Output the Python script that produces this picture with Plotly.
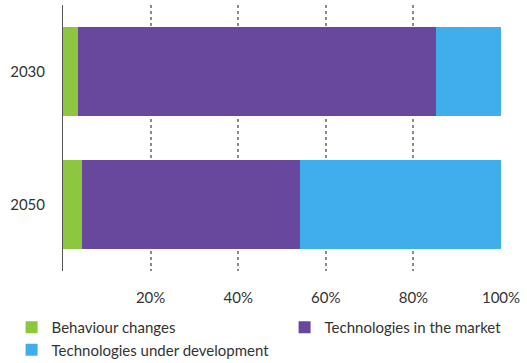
import plotly.graph_objects as go

years = ["2030", "2050"]
behaviour = [3.4, 4.3]
market = [81.8, 49.8]
development = [14.8, 45.9]

series = [
    ("Behaviour changes", behaviour, "#8DC63F", "legend"),
    ("Technologies in the market", market, "#67489C", "legend2"),
    ("Technologies under development", development, "#41AEEC", "legend"),
]

fig = go.Figure()
for name, vals, color, leg in series:
    fig.add_trace(go.Bar(
        y=years, x=vals, name=name, orientation="h", legend=leg,
        marker=dict(color=color, line=dict(width=0)),
    ))

legend_common = dict(
    orientation="v", xref="container", yref="container",
    yanchor="top", traceorder="normal",
    font=dict(family="Lato", size=15, color="#333333"),
    itemwidth=30, tracegroupgap=0, bgcolor="rgba(0,0,0,0)",
)

fig.update_layout(
    barmode="stack",
    bargap=0.33,
    width=527, height=363,
    margin=dict(l=63, r=26, t=5, b=92, autoexpand=False),
    paper_bgcolor="white", plot_bgcolor="white",
    font=dict(family="Lato", size=15, color="#333333"),
    showlegend=True,
    legend=dict(x=0.022, xanchor="left", y=0.143, **legend_common),
    legend2=dict(x=0.54, xanchor="left", y=0.143, **legend_common),
    xaxis=dict(
        range=[0, 100], tickvals=[20, 40, 60, 80, 100],
        ticktext=["20%", "40%", "60%", "80%", "100%"],
        showgrid=True, gridcolor="#8a8a8a", griddash="dot", gridwidth=2,
        zeroline=False, showline=False, ticks="",
        ticklabelstandoff=16,
    ),
    yaxis=dict(
        autorange="reversed", showgrid=False, showline=True,
        linecolor="#555555", linewidth=1, ticks="",
        ticklabelstandoff=14,
    ),
)

fig.write_html("out.html")
